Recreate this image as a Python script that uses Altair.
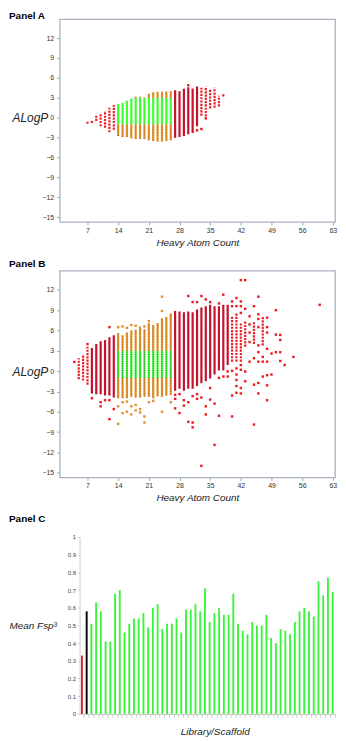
import altair as alt
import pandas as pd

FONT = "Liberation Sans"

# ---------------- Panel A: column ranges of ALogP per heavy atom count ----------------
A_hac = list(range(7, 39))
A_lo = [-0.9, -0.8, -0.5, -1.3, -1.5, -2.2, -1.8, -2.75, -2.9, -2.9, -3.1, -3.2, -3.2, -3.2,
        -3.4, -3.5, -3.6, -3.6, -3.5, -3.4, -3.0, -2.9, -2.75, -2.5, -2.3, -1.3, 0.3, 0.2,
        1.4, 1.5, 1.7, 3.2]
A_hi = [-0.6, -0.35, 0.3, 0.6, 1.0, 1.5, 1.9, 2.05, 2.2, 2.55, 2.9, 3.15, 3.15, 3.05,
        3.6, 3.85, 3.9, 3.9, 3.95, 4.0, 4.15, 4.0, 4.35, 4.6, 4.4, 4.7, 4.5, 4.7,
        4.25, 4.5, 3.3, 3.6]
A_out_hac = [30, 32, 33, 34]
A_out_alogp = [4.9, -1.9, -1.7, -0.1]

# ---------------- Panel B ----------------
B_hac = list(range(5, 40)) + [40, 41, 42, 43, 45, 47]
B_lo = [-1.2, -1.4, -2.0, -3.3, -3.4, -3.4, -3.6, -3.6, -3.9,
        -4.0, -4.0, -4.0, -3.8, -3.9, -3.9, -3.8, -3.8, -4.0, -3.7, -3.8, -3.6, -3.5,
        -2.9, -2.6, -2.9, -2.6, -2.6, -2.2, -1.8, -1.5, -1.1, -0.5, 0.1, 0.1, 0.9,
        1.4, 1.4, 1.4, 3.6, 4.0, 3.8]
B_hi = [1.9, 2.4, 3.6, 3.4, 4.0, 4.4, 4.6, 5.0, 5.3,
        5.6, 5.3, 5.7, 6.0, 6.1, 6.6, 6.2, 7.1, 6.8, 7.1, 7.8, 8.0, 8.5,
        8.9, 8.8, 8.7, 8.8, 8.7, 9.1, 9.4, 9.6, 9.8, 9.6, 9.6, 9.8, 9.8,
        8.1, 8.6, 7.2, 7.4, 7.4, 8.0]
B_out_hac = [4, 7, 8, 10, 10, 11, 12, 12, 12, 13,
             14, 14, 14, 15, 15, 15, 16, 16, 16,
             17, 17, 17, 18, 18, 18, 19, 19,
             20, 20, 20, 21, 21, 22, 24, 24, 24, 26,
             27, 27, 27, 28, 28, 29, 29,
             30, 30, 30, 31, 31, 31, 31,
             32, 32, 32, 33, 33, 33,
             34, 34, 34, 35, 35, 35, 36, 36,
             37, 37, 37, 38, 38, 39, 39,
             40, 40, 40, 40, 40,
             41, 41, 41, 41, 41, 41, 41,
             42, 42, 42, 42, 42, 42, 42, 42,
             43, 43, 43, 43,
             44, 44, 44, 44, 44,
             45, 45, 45, 45,
             46, 46, 46, 46, 46, 46, 46, 46, 46,
             47, 47, 47,
             48, 48, 48, 48, 48, 48, 48, 48,
             49, 49, 50, 50, 50,
             51, 51, 51, 51, 52, 54, 60]
B_out_alogp = [1.35, 4.0, -4.0, -4.6, -5.2, -4.3, 6.5, -4.3, -7.1, -5.6,
               6.5, -5.2, -7.8, 6.6, -4.6, -6.2, 6.4, -4.5, -6.0,
               6.8, -5.2, -6.4, 6.7, -5.0, -5.8, -5.6, -6.1,
               6.6, -6.7, -7.6, 7.4, -4.6, -4.4, 11.0, 8.9, -6.0, -4.6,
               -3.5, -4.1, -5.5, -3.4, -6.2, -4.3, -5.1,
               11.1, -4.6, -7.5, 10.2, -3.7, -7.6, -8.3,
               10.2, -3.4, -4.1, 11.1, -3.9, -14.0,
               10.6, -5.2, -6.4, 10.2, -2.5, -4.2, -4.8, -10.9,
               10.0, -1.0, -6.6, 11.3, -0.8, -0.05, -0.8,
               10.3, 9.6, 0.05, -3.6, -6.7,
               10.8, 9.6, 0.4, -0.5, -1.3, -2.2, -3.2,
               13.45, 10.3, 9.6, 8.6, 0.9, 0.2, -2.5, -3.3,
               13.45, 9.2, -0.05, -1.5,
               8.1, 6.9, 5.7, 4.3, 1.4,
               9.6, 1.9, -2.0, -7.9,
               11.0, 8.4, 7.7, 6.5, 3.8, 2.8, 1.4, -1.75, -3.3,
               2.1, 1.4, -0.8,
               7.9, 6.5, 5.7, 3.3, 1.4, -0.6, -2.1, -4.3,
               2.6, -0.5, 9.0, 5.4, 2.8,
               5.35, 4.6, 2.8, 1.5, 0.9, 2.1, 9.8]

# ---------------- Panel C ----------------
C_fsp3 = [0.33, 0.58, 0.51, 0.63, 0.58, 0.41, 0.41, 0.68, 0.70, 0.46,
          0.51, 0.54, 0.54, 0.57, 0.49, 0.60, 0.62, 0.48, 0.51, 0.51,
          0.54, 0.46, 0.59, 0.59, 0.62, 0.58, 0.71, 0.52, 0.57, 0.60,
          0.56, 0.56, 0.68, 0.51, 0.47, 0.45, 0.52, 0.50, 0.50, 0.56,
          0.43, 0.40, 0.48, 0.47, 0.45, 0.52, 0.58, 0.60, 0.58, 0.55,
          0.75, 0.67, 0.77, 0.69]
C_kind = ["reference 1", "reference 2"] + ["library"] * 52
C_ticks = [0, 0.1, 0.2, 0.3, 0.4, 0.5, 0.6, 0.7, 0.8, 0.9, 1]

HAC_TICKS = [7, 14, 21, 28, 35, 42, 49, 56, 63]
LOGP_TICKS = [-15, -12, -9, -6, -3, 0, 3, 6, 9, 12]
LEAD_HAC = (14, 26)
LEAD_LOGP = (-1, 3)

CLS_DOMAIN = ["red", "dense", "orange", "green"]
CLS_RANGE = ["#ec1c24", "#c4122c", "#e2922a", "#3cff2e"]
DASH_RANGE = [[2.2, 1.1], [1, 0], [1, 0], [1, 0]]

PLOT_W = 277


def segments(hacs, los, his, dense_max_hac):
    rows = []
    for h, lo, hi in zip(hacs, los, his):
        if LEAD_HAC[0] <= h <= LEAD_HAC[1]:
            if lo < LEAD_LOGP[0]:
                rows.append(dict(hac=h, lo=lo, hi=min(hi, LEAD_LOGP[0]), cls="orange"))
            g0, g1 = max(lo, LEAD_LOGP[0]), min(hi, LEAD_LOGP[1])
            if g1 > g0:
                rows.append(dict(hac=h, lo=g0, hi=g1, cls="green"))
            if hi > LEAD_LOGP[1]:
                rows.append(dict(hac=h, lo=max(lo, LEAD_LOGP[1]), hi=hi, cls="orange"))
        else:
            dense = (hi - lo) >= 5.9 and h <= dense_max_hac
            rows.append(dict(hac=h, lo=lo, hi=hi, cls="dense" if dense else "red"))
    return pd.DataFrame(rows)


def points(hacs, vals):
    rows = []
    for h, v in zip(hacs, vals):
        inside = LEAD_HAC[0] <= h <= LEAD_HAC[1]
        if inside and LEAD_LOGP[0] <= v <= LEAD_LOGP[1]:
            c = "green"
        elif inside:
            c = "orange"
        else:
            c = "red"
        rows.append(dict(hac=h, alogp=v, cls=c))
    return pd.DataFrame(rows)


def panel_label(text, y_above):
    return alt.Chart(pd.DataFrame({"label": [text]})).mark_text(
        align="left", baseline="alphabetic", fontSize=10, fontWeight="bold", font=FONT,
        color="#000").encode(text="label:N", x=alt.value(-51), y=alt.value(-y_above))


X_DOMAIN = [0.65, 63.5]
Y_DOMAIN = [-15.7, 14.85]


def scatter_panel(seg, pts, title, height, label_above, green_speck):
    xaxis = alt.Axis(values=HAC_TICKS, tickCount=len(HAC_TICKS), title="Heavy Atom Count",
                     titleFontSize=10, titleFontStyle="italic", titleFontWeight="normal",
                     titlePadding=4, titleColor="#222", labelFontSize=7, labelColor="#333",
                     labelPadding=1.5, tickSize=3, tickColor="#9aa", domain=False, grid=False,
                     labelFlush=False, labelOverlap=False)
    yaxis = alt.Axis(values=LOGP_TICKS, tickCount=len(LOGP_TICKS), title="ALogP", titleAngle=0,
                     titleAlign="right", titleBaseline="middle", titleX=-12,
                     titleY=height * Y_DOMAIN[1] / (Y_DOMAIN[1] - Y_DOMAIN[0]),
                     titleFontSize=12, titleFontStyle="italic", titleFontWeight="normal",
                     titleColor="#222", labelFontSize=7, labelColor="#333", labelPadding=3,
                     tickSize=3, tickColor="#9aa", domain=False, grid=False, labelFlush=False,
                     labelOverlap=False)
    x = alt.X("hac:Q", scale=alt.Scale(domain=X_DOMAIN, nice=False, zero=False), axis=xaxis)
    y = alt.Y("lo:Q", scale=alt.Scale(domain=Y_DOMAIN, nice=False, zero=False), axis=yaxis)
    color = alt.Color("cls:N", scale=alt.Scale(domain=CLS_DOMAIN, range=CLS_RANGE), legend=None)
    cols = alt.Chart(seg).mark_rule(strokeWidth=2.2, strokeCap="butt").encode(
        x=x, y=y, y2="hi:Q", color=color,
        strokeDash=alt.StrokeDash("cls:N", scale=alt.Scale(domain=CLS_DOMAIN, range=DASH_RANGE),
                                  legend=None))
    orange_speck = alt.Chart(seg).transform_filter(alt.datum.cls == "orange").mark_rule(
        strokeWidth=0.8, strokeDash=[1, 1.8], color="#9a5a14", opacity=0.8).encode(
        x="hac:Q", y="lo:Q", y2="hi:Q")
    layers = [cols, orange_speck]
    if green_speck:
        layers.append(alt.Chart(seg).transform_filter(alt.datum.cls == "green").mark_rule(
            strokeWidth=1.0, strokeDash=[1, 1.3], color="#1f4f1f", opacity=0.75).encode(
            x="hac:Q", y="lo:Q", y2="hi:Q"))
    dots = alt.Chart(pts).mark_square(size=6, opacity=1).encode(
        x="hac:Q", y=alt.Y("alogp:Q"), color=color)
    layers.append(dots)
    layers.append(panel_label(title, label_above))
    return alt.layer(*layers).properties(width=PLOT_W, height=height)


panelA = scatter_panel(segments(A_hac, A_lo, A_hi, 39), points(A_out_hac, A_out_alogp),
                       "Panel A", 204, 0, False)
panelB = scatter_panel(segments(B_hac, B_lo, B_hi, 39), points(B_out_hac, B_out_alogp),
                       "Panel B", 208, 4, True)

dfC = pd.DataFrame({"slot": list(range(len(C_fsp3))), "fsp3": C_fsp3, "kind": C_kind})
C_H = 178
barsC = alt.Chart(dfC).mark_bar().encode(
    x=alt.X("slot:O", scale=alt.Scale(range=[20, PLOT_W], paddingInner=0.6, paddingOuter=0.3),
            axis=alt.Axis(labels=False, ticks=True, tickSize=3, bandPosition=1.75,
                          domainColor="#c8c8c8", tickColor="#c8c8c8", title="Library/Scaffold",
                          titleFontSize=10, titleFontStyle="italic", titleFontWeight="normal",
                          titleColor="#222", titlePadding=9, titleX=156, titleAlign="center")),
    y=alt.Y("fsp3:Q", scale=alt.Scale(domain=[0, 1], nice=False),
            axis=alt.Axis(values=C_ticks, tickCount=len(C_ticks), format="~g", offset=-20,
                          title="Mean Fsp³", titleAngle=0, titleAlign="left",
                          titleBaseline="middle", titleX=-71, titleY=C_H / 2, titleFontSize=10,
                          titleFontStyle="italic", titleFontWeight="normal", titleColor="#222",
                          labelFontSize=6, labelColor="#444", labelPadding=2, tickSize=2,
                          domainColor="#cfcfcf", tickColor="#cfcfcf", grid=False,
                          labelFlush=False, labelOverlap=False)),
    color=alt.Color("kind:N", scale=alt.Scale(domain=["reference 1", "reference 2", "library"],
                                              range=["#ee1c24", "#000000", "#3cf43c"]),
                    legend=None),
)
panelC = alt.layer(barsC, panel_label("Panel C", 15)).properties(
    width=PLOT_W, height=C_H, view=alt.ViewBackground(stroke="transparent"))

chart = alt.vconcat(panelA, panelB, panelC, spacing=9).resolve_scale(
    color="independent", strokeDash="independent"
).properties(padding=0).configure_view(
    stroke="#a9b3bf", strokeWidth=1.3
).configure_axis(labelFont=FONT, titleFont=FONT)

chart.save("out.html", embed_options={"renderer": "svg", "actions": False})
